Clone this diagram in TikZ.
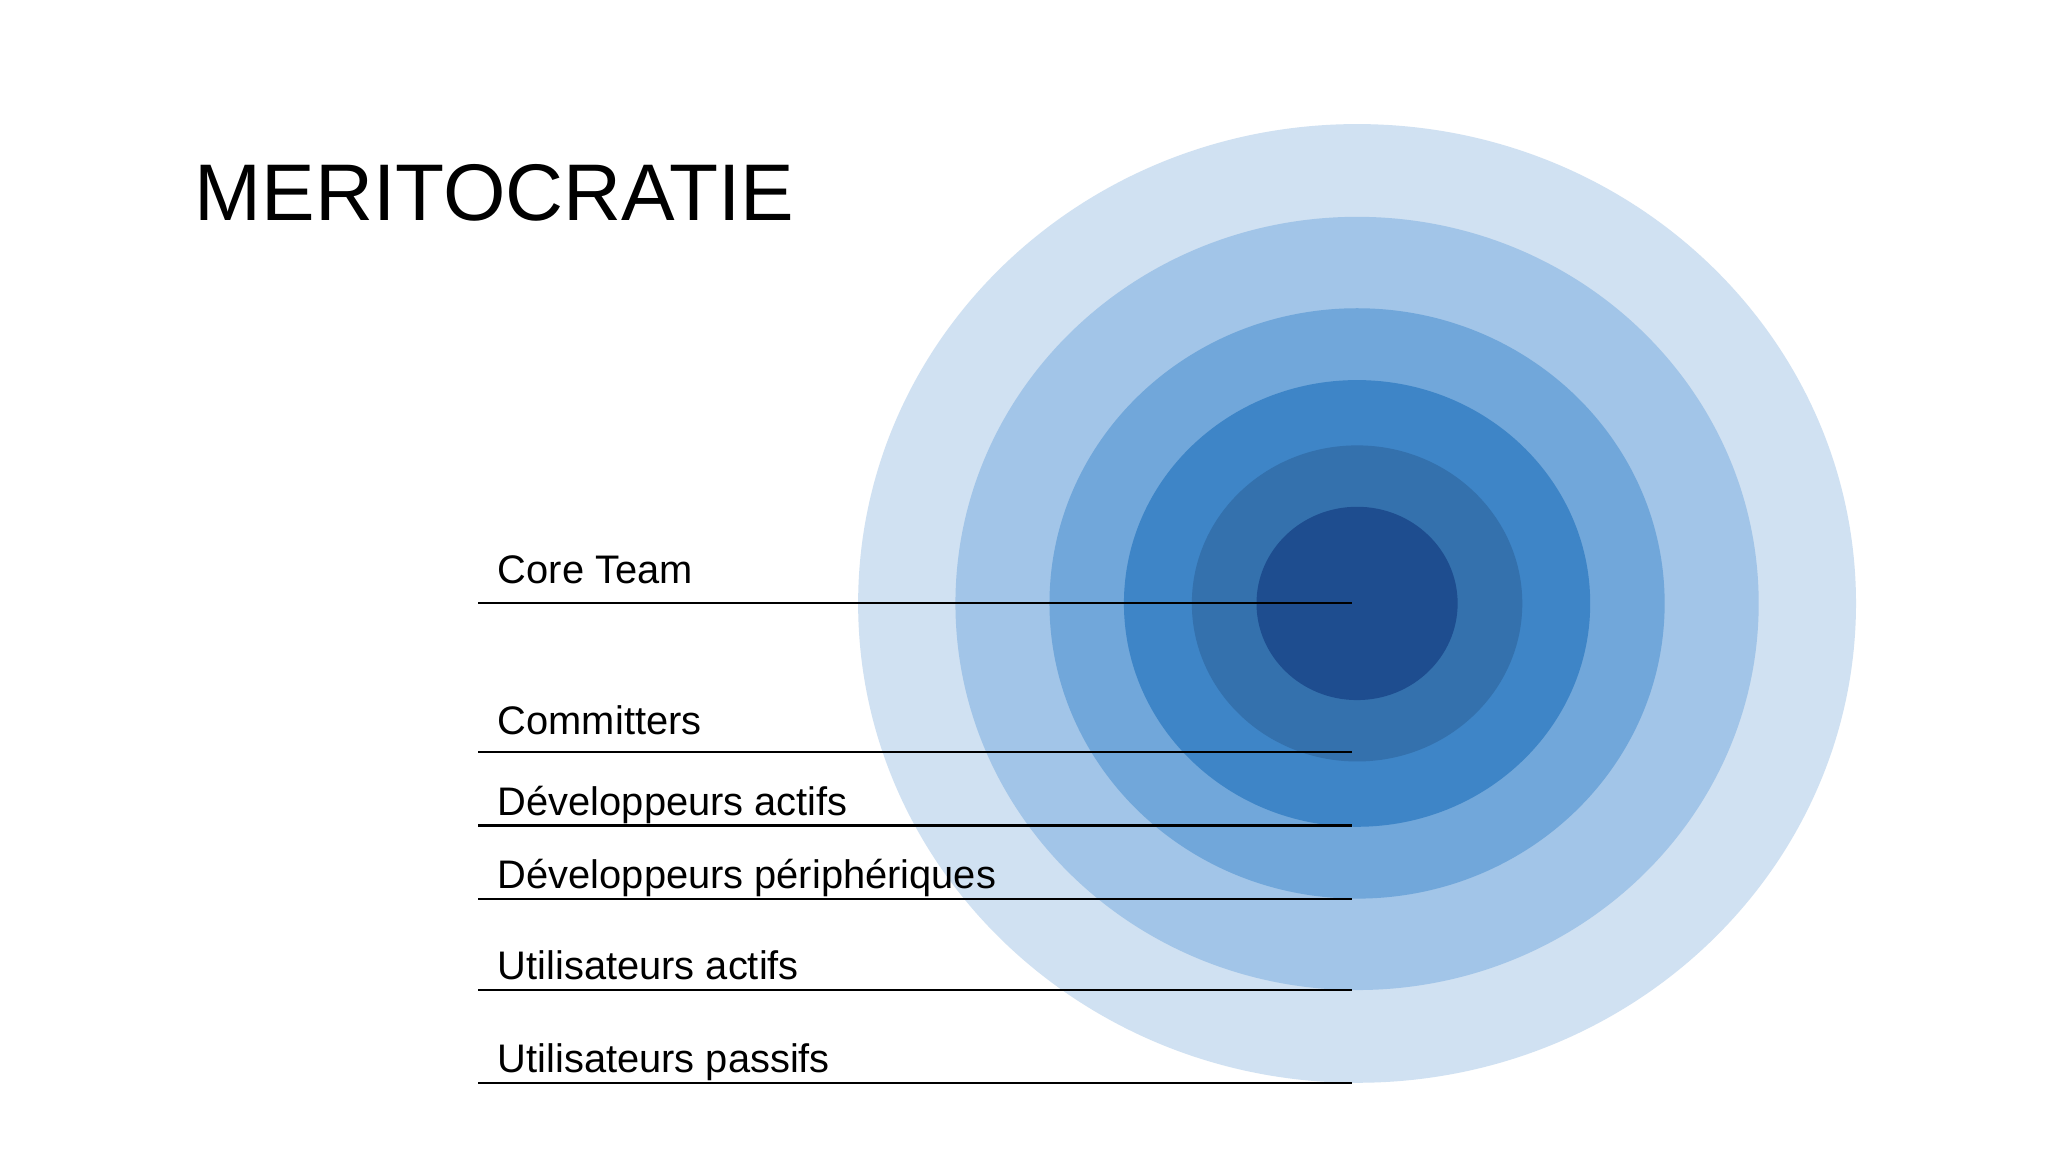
\documentclass[tikz,border=0pt]{standalone}
\usepackage{fontspec}
\setmainfont{Liberation Sans}
\definecolor{ringA}{RGB}{208,225,242}
\definecolor{ringB}{RGB}{162,197,232}
\definecolor{ringC}{RGB}{113,167,218}
\definecolor{ringD}{RGB}{62,133,199}
\definecolor{ringE}{RGB}{52,113,173}
\definecolor{ringF}{RGB}{30,77,143}
\tikzset{
  lbl/.style={anchor=base west, inner sep=0pt, font=\fontsize{30.5}{36}\selectfont},
  rule/.style={draw=black, line width=1.6pt},
}
\begin{document}
\begin{tikzpicture}[x=1pt,y=-1pt]
\useasboundingbox (0,0) rectangle (1568,882);
\fill[white] (0,0) rectangle (1568,882);
% rings
\fill[ringA] (1039,462) ellipse [x radius=382pt, y radius=367pt];
\fill[ringB] (1039,462) ellipse [x radius=307.5pt, y radius=296pt];
\fill[ringC] (1039,462) ellipse [x radius=235.5pt, y radius=226pt];
\fill[ringD] (1039,462) ellipse [x radius=178.5pt, y radius=171pt];
\fill[ringE] (1039,462) ellipse [x radius=126.5pt, y radius=121pt];
\fill[ringF] (1039,462) ellipse [x radius=77pt, y radius=74pt];
% title
\node[anchor=base west, inner sep=0pt, font=\fontsize{61.5}{72}\selectfont] (title) at (149,169) {MERITOCRATIE};
% labels
\node[lbl] (t1) at (381,447) {Core Team};
\node[lbl] (t2) at (381,562) {Committers};
\node[lbl] (t3) at (381,624) {Développeurs actifs};
\node[lbl] (t4) at (381,680) {Développeurs périphériques};
\node[lbl] (t5) at (381,750) {Utilisateurs actifs};
\node[lbl] (t6) at (381,821) {Utilisateurs passifs};
% rules
\coordinate (a1) at (366,462); \coordinate (b1) at (1035,462);
\coordinate (a2) at (366,576); \coordinate (b2) at (1035,576);
\coordinate (a3) at (366,632); \coordinate (b3) at (1035,632);
\coordinate (a4) at (366,688); \coordinate (b4) at (1035,688);
\coordinate (a5) at (366,758); \coordinate (b5) at (1035,758);
\coordinate (a6) at (366,829); \coordinate (b6) at (1035,829);
\draw[rule] (a1) -- (b1);
\draw[rule] (a2) -- (b2);
\draw[rule] (a3) -- (b3);
\draw[rule] (a4) -- (b4);
\draw[rule] (a5) -- (b5);
\draw[rule] (a6) -- (b6);
\end{tikzpicture}
\end{document}
